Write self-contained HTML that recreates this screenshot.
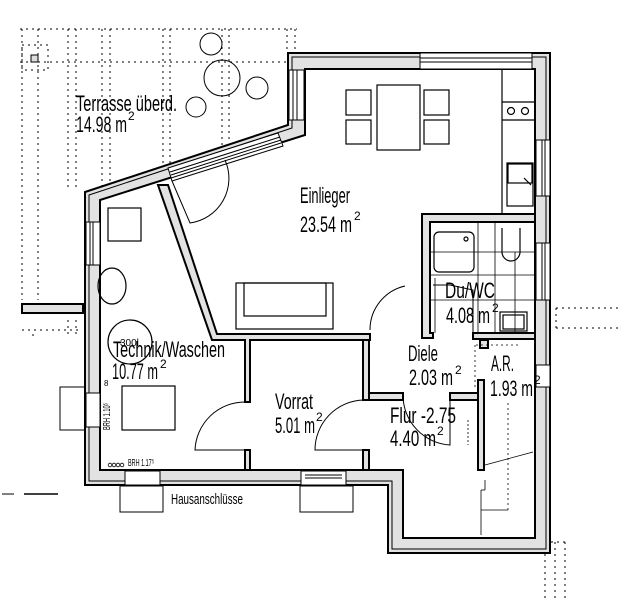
<!DOCTYPE html>
<html><head><meta charset="utf-8"><style>
html,body{margin:0;padding:0;background:#fff;}
svg{display:block;}
text{font-family:"Liberation Sans Narrow","Liberation Sans",sans-serif;fill:#000;}
</style></head><body>
<svg width="619" height="598" viewBox="0 0 619 598" xmlns="http://www.w3.org/2000/svg">
<g stroke="#000" stroke-width="1" stroke-dasharray="2,4" fill="none">
<line x1="20" y1="29" x2="297" y2="29"/>
<line x1="20" y1="62" x2="290" y2="62"/>
<line x1="22" y1="29" x2="22" y2="300"/>
<line x1="38" y1="29" x2="38" y2="300"/>
<line x1="68" y1="29" x2="68" y2="190"/>
<line x1="76" y1="29" x2="76" y2="190"/>
<line x1="102" y1="29" x2="102" y2="190"/>
<line x1="110" y1="29" x2="110" y2="190"/>
<line x1="163" y1="29" x2="163" y2="170"/>
<line x1="170" y1="29" x2="170" y2="170"/>
<line x1="222" y1="29" x2="222" y2="150"/>
<line x1="229" y1="29" x2="229" y2="140"/>
<line x1="287" y1="29" x2="287" y2="53"/>
<line x1="295" y1="29" x2="295" y2="53"/>
<line x1="22" y1="330" x2="80" y2="330"/>
<line x1="32" y1="335" x2="38" y2="335"/>
<line x1="68" y1="320" x2="68" y2="338"/>
<line x1="76" y1="320" x2="76" y2="338"/>
<line x1="556" y1="308" x2="619" y2="308"/>
<line x1="556" y1="328" x2="619" y2="328"/>
<line x1="556" y1="308" x2="556" y2="328"/>
<line x1="545" y1="542" x2="545" y2="598"/>
<line x1="555" y1="542" x2="555" y2="598"/>
<line x1="565" y1="542" x2="565" y2="598"/>
<line x1="545" y1="542" x2="565" y2="542"/>
<rect x="22" y="45" width="26" height="25"/>
</g>
<rect x="31" y="55" width="7" height="7" fill="#ddd" stroke="#000"/>
<rect x="22" y="304" width="61" height="9" fill="#e2e2e2" stroke="#000" stroke-width="2"/>
<g fill="none" stroke="#000" stroke-width="1">
<circle cx="211" cy="44" r="11"/><circle cx="222" cy="78" r="18"/><circle cx="257" cy="88" r="11"/><circle cx="196" cy="107" r="10"/>
</g>
<line x1="2" y1="494" x2="14" y2="494" stroke="#000"/><line x1="24" y1="494" x2="58" y2="494" stroke="#000" stroke-width="1.5"/>
<g fill="#e2e2e2" stroke="#000" stroke-width="2" stroke-linejoin="miter">
<path d="M288,53 L550,53 L550,553 L388,553 L388,485 L85,485 L85,192 L288,125 Z M305,69 L305,135 L100,200 L100,470 L403,470 L403,538 L535,538 L535,69 Z" fill-rule="evenodd"/>
</g>
<g stroke="#000" stroke-width="1" fill="none">
<path d="M292,57 L546,57 L546,549 L392,549 L392,481 L89,481 L89,195 L292,128 Z"/>
</g>
<g fill="#fff" stroke="#000" stroke-width="1">
<rect x="420" y="53" width="112" height="16"/>
<rect x="536" y="140" width="14" height="56"/>
<rect x="536" y="243" width="14" height="57"/>
<rect x="536" y="365" width="14" height="22"/>
<rect x="86" y="222" width="14" height="43"/>
<rect x="86" y="393" width="14" height="34"/>
<rect x="125" y="471" width="35" height="14"/>
<rect x="301" y="471" width="45" height="14"/>
<rect x="289" y="70" width="15" height="50"/>
<polygon points="168,168 278,133 283,146 172,181"/>
</g>
<g stroke="#000" stroke-width="1" fill="none">
<line x1="420" y1="58" x2="532" y2="58"/><line x1="420" y1="62" x2="532" y2="62"/>
<line x1="542" y1="140" x2="542" y2="196"/><line x1="545" y1="140" x2="545" y2="196"/>
<line x1="542" y1="243" x2="542" y2="300"/><line x1="545" y1="243" x2="545" y2="300"/>
<line x1="90" y1="222" x2="90" y2="265"/><line x1="93" y1="222" x2="93" y2="265"/>
<line x1="293" y1="70" x2="293" y2="120"/><line x1="297" y1="70" x2="297" y2="120"/>
<line x1="170" y1="172" x2="280" y2="137"/><line x1="171" y1="175" x2="281" y2="140"/><line x1="171" y1="178" x2="281" y2="143"/>
<line x1="305" y1="475" x2="342" y2="475"/><line x1="305" y1="478" x2="342" y2="478"/>
<rect x="60" y="387" width="25" height="43"/>
<rect x="120" y="486" width="43" height="26"/>
<rect x="300" y="486" width="53" height="26"/>
</g>
<g fill="#e2e2e2" stroke="#000" stroke-width="2">
<polygon points="158,185 168,185 217,334 370,334 370,340 250,340 250,402 245,402 245,340 212,340"/>
<rect x="245" y="450" width="5" height="20"/>
<rect x="363" y="340" width="6" height="60"/>
<rect x="363" y="450" width="6" height="20"/>
<path d="M422,214 L535,214 L535,222 L430,222 L430,333 L433,333 L433,338 L422,338 Z"/>
<rect x="473" y="333" width="62" height="6"/>
<rect x="369" y="393" width="34" height="7"/>
<rect x="450" y="393" width="28" height="7"/>
<rect x="478" y="380" width="6" height="90"/>
<rect x="480" y="340" width="8" height="8"/>
</g>
<g fill="none" stroke="#000" stroke-width="1">
<path d="M172,181 L190,223 A45,45 0 0 0 225,160"/>
<path d="M245,402 A50,50 0 0 0 195,450 L245,450"/>
<path d="M363,400 A50,50 0 0 0 315,450 L363,450"/>
<path d="M370,330 A45,45 0 0 1 405,286"/>
<path d="M403,395 A50,50 0 0 0 450,445 L450,400"/>
<path d="M433,285 L450,285 L473,290 L473,333"/>
</g>
<g fill="none" stroke="#000" stroke-width="1.2">
<rect x="377" y="85" width="43" height="65"/>
<rect x="346" y="90" width="25" height="25"/><rect x="346" y="120" width="25" height="24"/>
<rect x="424" y="90" width="25" height="25"/><rect x="424" y="120" width="25" height="24"/>
<line x1="502" y1="69" x2="502" y2="213"/>
<line x1="502" y1="102" x2="535" y2="102"/><line x1="502" y1="120" x2="535" y2="120"/>
<circle cx="511" cy="111" r="3.5"/><circle cx="525" cy="111" r="3.5"/>
<rect x="507" y="163" width="26" height="43"/><rect x="508" y="164" width="24" height="19"/>
<line x1="524" y1="178" x2="531" y2="185"/>
<rect x="108" y="208" width="33" height="33"/>
<ellipse cx="112" cy="286" rx="14" ry="18"/>
<rect x="236" y="283" width="97" height="46"/><rect x="244" y="283" width="82" height="33"/>
<circle cx="130" cy="342" r="22"/>
<rect x="122" y="386" width="53" height="44"/>
<rect x="434" y="232" width="40" height="40" rx="5"/><circle cx="466" cy="239" r="2"/>
<path d="M502,228 L502,252 A7,7 0 0 0 520,252 L520,228"/>
<rect x="500" y="312" width="27" height="19"/><rect x="503" y="315" width="21" height="14"/>
</g>
<g stroke="#000" stroke-width="0.8" fill="none">
<line x1="430" y1="275" x2="535" y2="275"/><line x1="430" y1="300" x2="535" y2="300"/>
<line x1="430" y1="252" x2="535" y2="252"/>
<line x1="478" y1="222" x2="478" y2="333"/><line x1="495" y1="222" x2="495" y2="333"/>
<line x1="515" y1="252" x2="515" y2="333"/><line x1="435" y1="278" x2="435" y2="333"/>
<line x1="485" y1="465" x2="533" y2="452"/>
<line x1="481" y1="535" x2="481" y2="490"/><line x1="481" y1="490" x2="485" y2="490"/>
<line x1="485" y1="480" x2="485" y2="490"/>
<line x1="508" y1="510" x2="508" y2="400" stroke-dasharray="2,3"/>
<line x1="481" y1="510" x2="508" y2="510"/>
<line x1="476" y1="345" x2="520" y2="345" stroke-dasharray="2,3"/>
<line x1="475" y1="345" x2="475" y2="390" stroke-dasharray="2,3"/>
<line x1="468" y1="420" x2="468" y2="445" stroke-dasharray="2,2"/>
</g>
<g fill="none" stroke="#000" stroke-width="0.8">
<circle cx="110" cy="465" r="1.8"/><circle cx="114" cy="465" r="1.8"/><circle cx="118" cy="465" r="1.8"/><circle cx="122" cy="465" r="1.8"/>
</g>
<text x="76" y="111" font-size="22" textLength="101" lengthAdjust="spacingAndGlyphs">Terrasse überd.</text>
<text x="76" y="132" font-size="22" textLength="51" lengthAdjust="spacingAndGlyphs">14.98 m</text><text x="128" y="120" font-size="12">2</text>
<text x="300" y="203" font-size="22" textLength="50" lengthAdjust="spacingAndGlyphs">Einlieger</text>
<text x="300" y="232" font-size="22" textLength="52" lengthAdjust="spacingAndGlyphs">23.54 m</text><text x="354" y="220" font-size="12">2</text>
<text x="113" y="357" font-size="22" textLength="112" lengthAdjust="spacingAndGlyphs">Technik/Waschen</text>
<text x="120" y="346" font-size="10">300l</text>
<text x="112" y="379" font-size="22" textLength="46" lengthAdjust="spacingAndGlyphs">10.77 m</text><text x="160" y="368" font-size="12">2</text>
<text x="275" y="409" font-size="22" textLength="38" lengthAdjust="spacingAndGlyphs">Vorrat</text>
<text x="275" y="433" font-size="22" textLength="40" lengthAdjust="spacingAndGlyphs">5.01 m</text><text x="316" y="421" font-size="12">2</text>
<text x="408" y="361" font-size="22" textLength="30" lengthAdjust="spacingAndGlyphs">Diele</text>
<text x="409" y="385" font-size="22" textLength="44" lengthAdjust="spacingAndGlyphs">2.03 m</text><text x="455" y="374" font-size="12">2</text>
<text x="390" y="423" font-size="22" textLength="66" lengthAdjust="spacingAndGlyphs">Flur -2.75</text>
<text x="390" y="446" font-size="22" textLength="46" lengthAdjust="spacingAndGlyphs">4.40 m</text><text x="437" y="435" font-size="12">2</text>
<text x="445" y="298" font-size="22" textLength="50" lengthAdjust="spacingAndGlyphs">Du/WC</text>
<text x="446" y="323" font-size="22" textLength="44" lengthAdjust="spacingAndGlyphs">4.08 m</text><text x="492" y="312" font-size="12">2</text>
<text x="491" y="371" font-size="22" textLength="23" lengthAdjust="spacingAndGlyphs">A.R.</text>
<text x="490" y="396" font-size="22" textLength="43" lengthAdjust="spacingAndGlyphs">1.93 m</text><text x="534" y="384" font-size="12">2</text>
<text x="171" y="504" font-size="15" textLength="72" lengthAdjust="spacingAndGlyphs">Hausanschlüsse</text>
<text x="128" y="466" font-size="10" textLength="26" lengthAdjust="spacingAndGlyphs">BRH 1.17⁵</text>
<text x="0" y="0" font-size="10" transform="translate(110,430) rotate(-90)" textLength="27" lengthAdjust="spacingAndGlyphs">BRH 1.10⁵</text>
<text x="104" y="386" font-size="8">8</text>
</svg>
</body></html>
